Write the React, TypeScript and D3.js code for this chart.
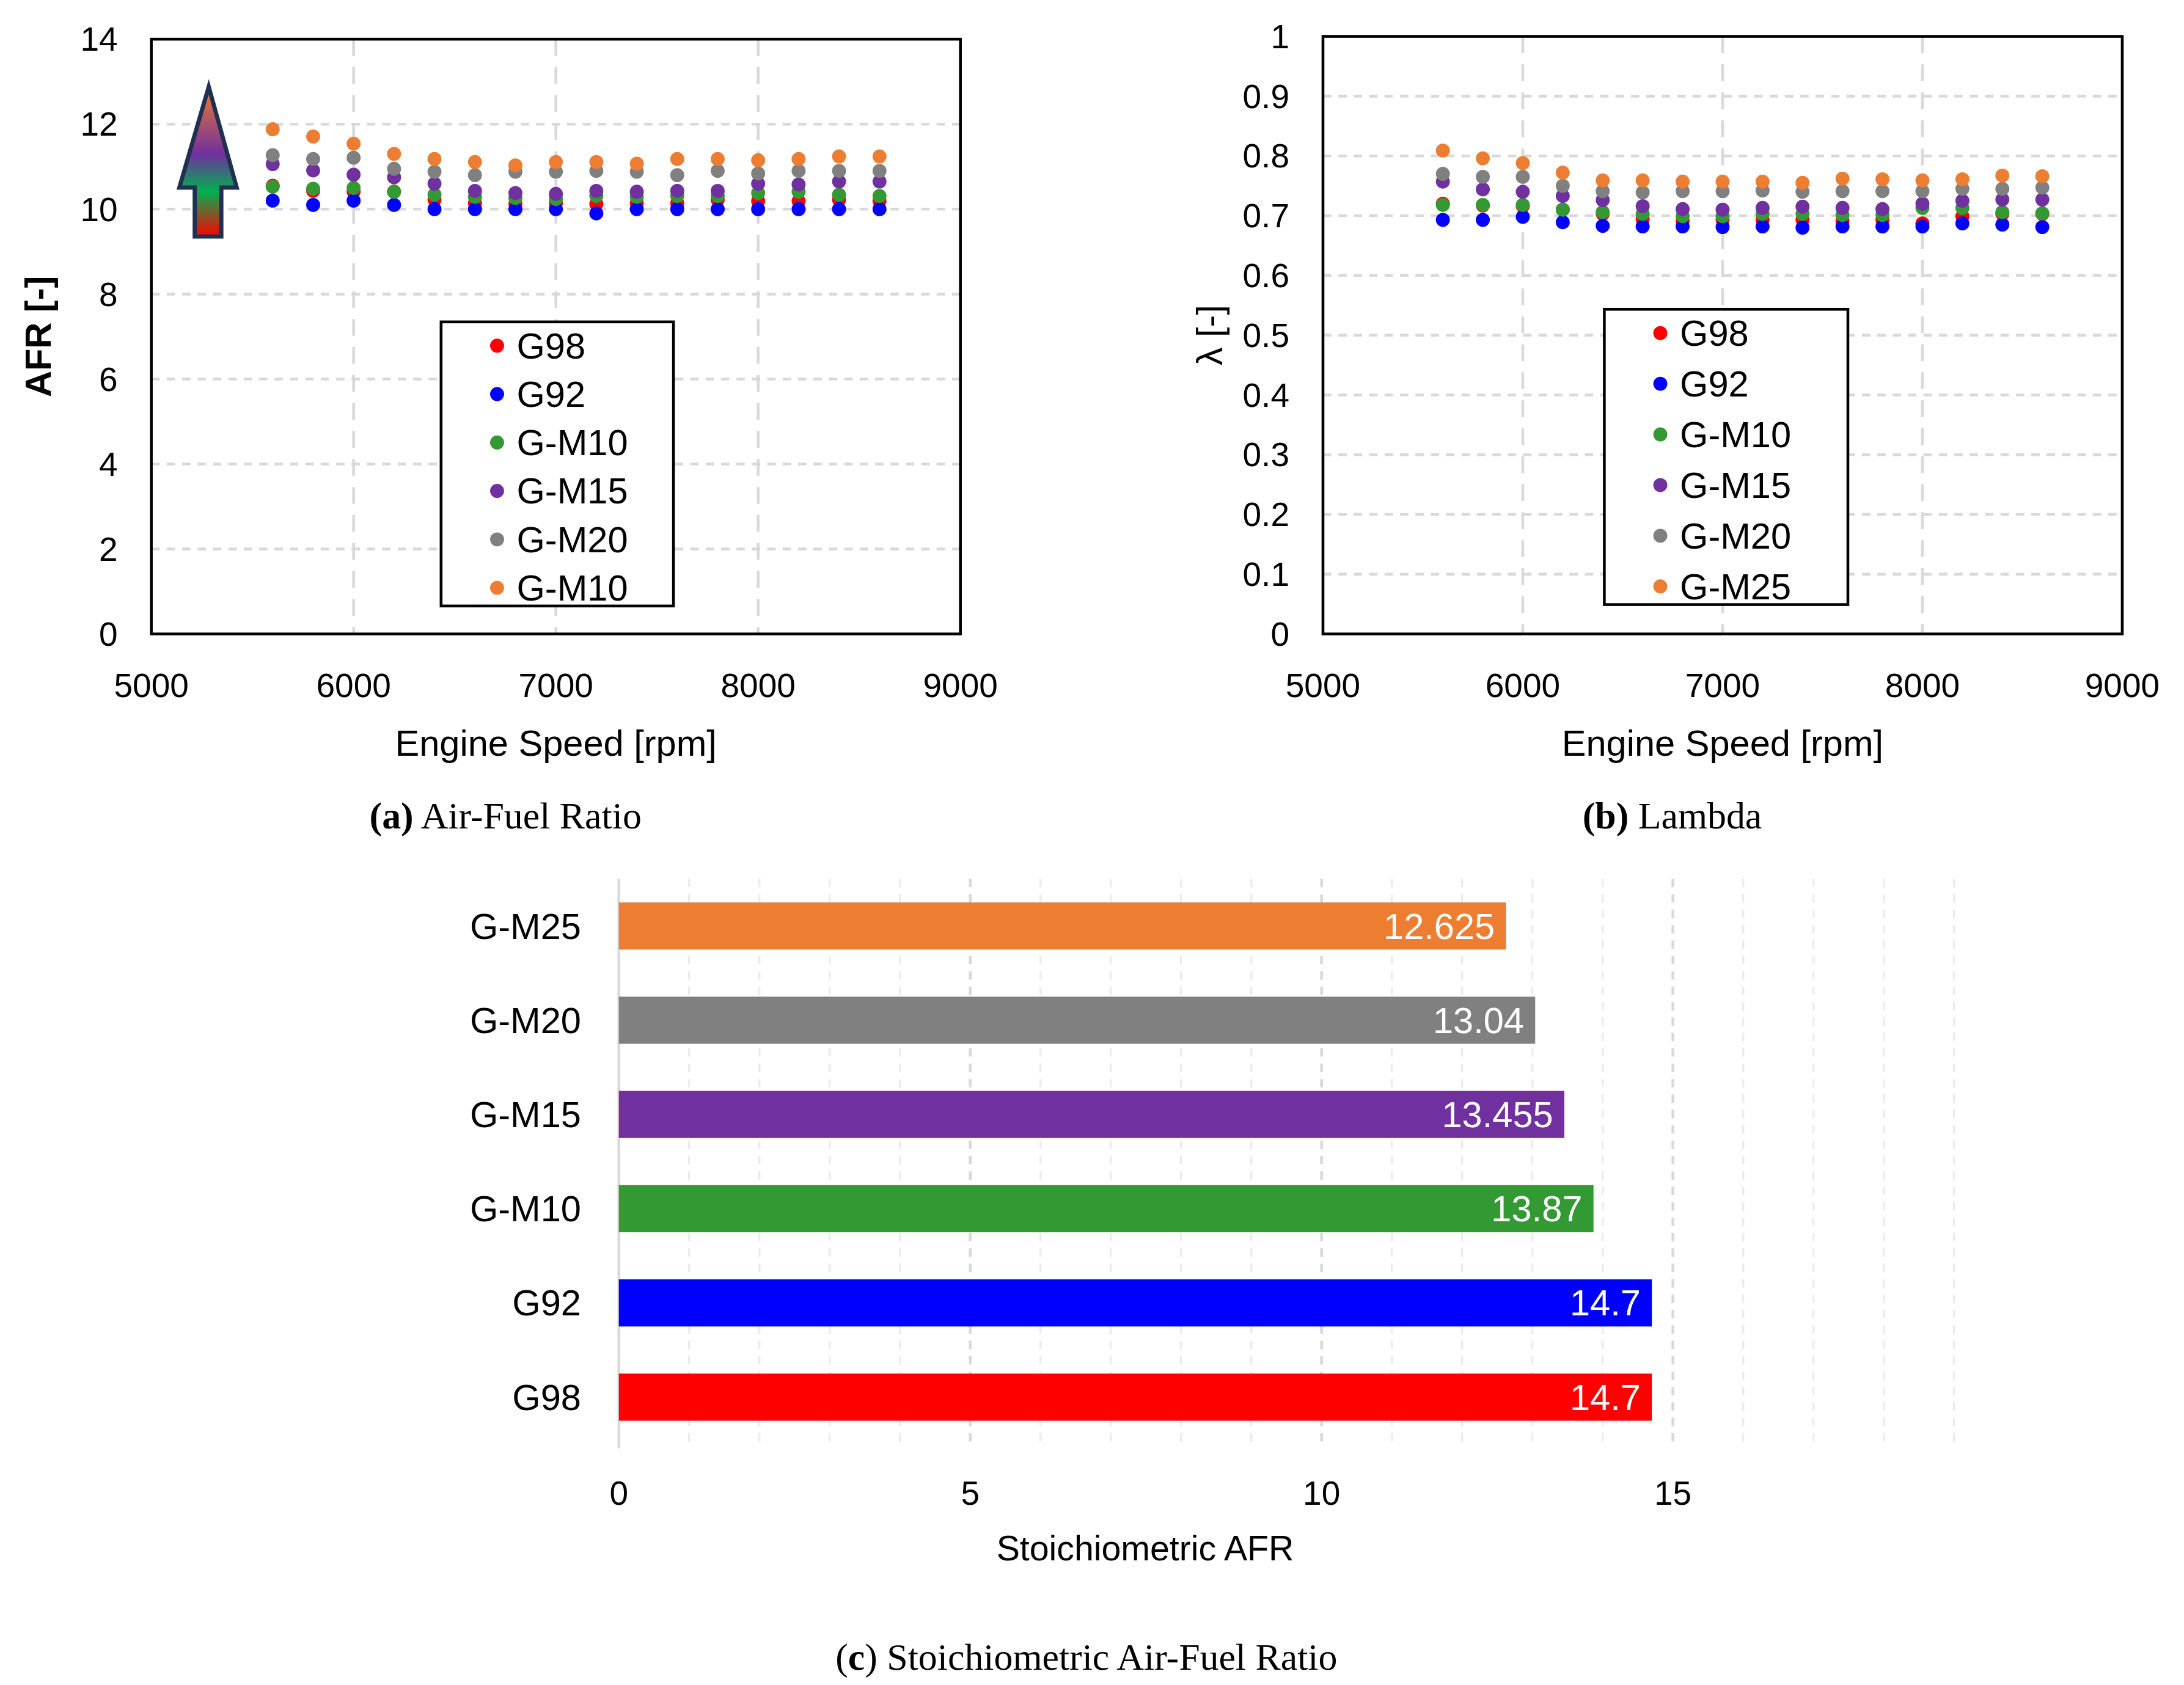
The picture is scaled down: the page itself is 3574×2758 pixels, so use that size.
import * as d3 from "d3";

const speeds = [5600, 5800, 6000, 6200, 6400, 6600, 6800, 7000, 7200, 7400, 7600, 7800, 8000, 8200, 8400, 8600];

const afrG98 = [10.55, 10.43, 10.41, 10.41, 10.22, 10.14, 10.12, 10.14, 10.12, 10.14, 10.14, 10.22, 10.19, 10.19, 10.22, 10.19];
const afrG92 = [10.2, 10.1, 10.2, 10.1, 10.0, 10.0, 10.0, 10.0, 9.9, 10.0, 10.0, 10.0, 10.0, 10.0, 10.0, 10.0];
const afrM10 = [10.53, 10.48, 10.5, 10.41, 10.34, 10.29, 10.26, 10.24, 10.31, 10.29, 10.31, 10.31, 10.38, 10.41, 10.34, 10.31];
const afrM15 = [11.06, 10.91, 10.81, 10.75, 10.6, 10.43, 10.38, 10.36, 10.43, 10.41, 10.43, 10.43, 10.6, 10.58, 10.65, 10.65];
const afrM20 = [11.27, 11.18, 11.21, 10.95, 10.88, 10.8, 10.88, 10.88, 10.9, 10.88, 10.8, 10.9, 10.84, 10.9, 10.9, 10.9];
const afrM25 = [11.88, 11.71, 11.54, 11.3, 11.18, 11.11, 11.03, 11.11, 11.11, 11.07, 11.18, 11.18, 11.15, 11.18, 11.24, 11.24];

const lamG98 = [0.72, 0.717, 0.716, 0.71, 0.703, 0.694, 0.691, 0.693, 0.693, 0.693, 0.691, 0.693, 0.687, 0.699, 0.703, 0.703];
const lamG92 = [0.693, 0.693, 0.698, 0.689, 0.683, 0.682, 0.682, 0.681, 0.682, 0.68, 0.682, 0.682, 0.682, 0.687, 0.685, 0.681];
const lamM10 = [0.718, 0.718, 0.718, 0.71, 0.706, 0.703, 0.699, 0.699, 0.703, 0.703, 0.701, 0.701, 0.713, 0.713, 0.706, 0.704];
const lamM15 = [0.757, 0.744, 0.74, 0.733, 0.726, 0.716, 0.711, 0.71, 0.713, 0.715, 0.713, 0.711, 0.72, 0.725, 0.727, 0.727];
const lamM20 = [0.77, 0.765, 0.765, 0.75, 0.741, 0.739, 0.741, 0.741, 0.742, 0.74, 0.741, 0.741, 0.741, 0.745, 0.745, 0.747];
const lamM25 = [0.809, 0.796, 0.788, 0.772, 0.759, 0.759, 0.757, 0.757, 0.757, 0.755, 0.762, 0.761, 0.759, 0.761, 0.767, 0.766];

const colors = ["#ff0000", "#0000ff", "#339933", "#7030a0", "#808080", "#ed7d31"];
const legendA = ["G98", "G92", "G-M10", "G-M15", "G-M20", "G-M10"];
const legendB = ["G98", "G92", "G-M10", "G-M15", "G-M20", "G-M25"];

const fuels = ["G98", "G92", "G-M10", "G-M15", "G-M20", "G-M25"];
const stoich = [14.7, 14.7, 13.87, 13.455, 13.04, 12.625];
const stoichLabels = ["14.7", "14.7", "13.87", "13.455", "13.04", "12.625"];

const sans = "Arial, 'Liberation Sans', sans-serif";
const serif = "'Times New Roman', 'Liberation Serif', serif";
const grid = "#d9d9d9";

function Scatter(props: {
  x0: number; x1: number; y0: number; y1: number; yMax: number; yTicks: number[];
  fmt: (v: number) => string; series: number[][]; legend: string[];
  lg: { x: number; y: number; w: number; h: number }; yTitle: string; yBold: boolean;
  caption: [string, string]; arrow?: boolean;
}) {
  const { x0, x1, y0, y1 } = props;
  const x = d3.scaleLinear().domain([5000, 9000]).range([x0, x1]);
  const y = d3.scaleLinear().domain([0, props.yMax]).range([y1, y0]);
  const xt = [5000, 6000, 7000, 8000, 9000];
  const step = (props.lg.h - 30) / 5;
  return (
    <g>
      {props.yTicks.slice(1, -1).map((t) => (
        <line key={"h" + t} x1={x0} x2={x1} y1={y(t)} y2={y(t)} stroke={grid} strokeWidth={2} strokeDasharray="6,5" />
      ))}
      {xt.slice(1, -1).map((t) => (
        <line key={"v" + t} x1={x(t)} x2={x(t)} y1={y0} y2={y1} stroke={grid} strokeWidth={2} strokeDasharray="12,8" />
      ))}
      <rect x={x0} y={y0} width={x1 - x0} height={y1 - y0} fill="none" stroke="#000" strokeWidth={2} />
      {props.yTicks.map((t) => (
        <text key={"yt" + t} x={x0 - 24} y={y(t)} dy="0.35em" textAnchor="end" fontSize={24} fontFamily={sans}>{props.fmt(t)}</text>
      ))}
      {xt.map((t) => (
        <text key={"xt" + t} x={x(t)} y={y1 + 45} textAnchor="middle" fontSize={24} fontFamily={sans}>{t}</text>
      ))}
      <text x={(x0 + x1) / 2} y={y1 + 87} textAnchor="middle" fontSize={26} fontFamily={sans}>Engine Speed [rpm]</text>
      <text transform={`translate(${x0 - 72},${(y0 + y1) / 2}) rotate(-90)`} textAnchor="middle" fontSize={26}
        fontWeight={props.yBold ? "bold" : "normal"} fontFamily={sans}>{props.yTitle}</text>
      <text x={(x0 + x1) / 2 - 36} y={y1 + 139} textAnchor="middle" fontSize={27} fontFamily={serif}>
        <tspan fontWeight="bold">{props.caption[0]}</tspan>{props.caption[1]}
      </text>
      {props.arrow && (
        <g>
          <defs>
            <linearGradient id="arrowGrad" x1="0" y1="1" x2="0" y2="0">
              <stop offset="0" stopColor="#ff0000" />
              <stop offset="0.3" stopColor="#00b050" />
              <stop offset="0.55" stopColor="#7030a0" />
              <stop offset="1" stopColor="#ed7d31" />
            </linearGradient>
          </defs>
          <path d="M149,62 L169,134 L158,134 L158,169 L139,169 L139,134 L128,134 Z" fill="url(#arrowGrad)" stroke="#1f3050" strokeWidth={3} />
        </g>
      )}
      {props.series.map((s, i) =>
        s.map((v, j) => <circle key={i + "-" + j} cx={x(speeds[j])} cy={y(v)} r={5} fill={colors[i]} />)
      )}
      <rect x={props.lg.x} y={props.lg.y} width={props.lg.w} height={props.lg.h} fill="#fff" stroke="#000" strokeWidth={2} />
      {props.legend.map((l, i) => (
        <g key={"l" + i}>
          <circle cx={props.lg.x + 40} cy={props.lg.y + 17 + step * i} r={5} fill={colors[i]} />
          <text x={props.lg.x + 54} y={props.lg.y + 17 + step * i} dy="0.35em" fontSize={26} fontFamily={sans}>{l}</text>
        </g>
      ))}
    </g>
  );
}

function Bars() {
  const x = d3.scaleLinear().domain([0, 15]).range([442, 1195]);
  const y = d3.scaleBand().domain(fuels).range([1032, 628]).paddingInner(0.5).paddingOuter(0.25);
  const minor = d3.range(1, 20);
  return (
    <g>
      {minor.map((t) => (
        <line key={t} x1={x(t)} x2={x(t)} y1={628} y2={1035} stroke={t % 5 === 0 ? grid : "#ececec"} strokeWidth={t % 5 === 0 ? 2 : 1.5} strokeDasharray="6,5" />
      ))}
      <line x1={x(0)} x2={x(0)} y1={628} y2={1035} stroke={grid} strokeWidth={2} />
      {fuels.map((f, i) => (
        <g key={f}>
          <rect x={x(0)} y={y(f)} width={x(stoich[i]) - x(0)} height={y.bandwidth()} fill={colors[i]} />
          <text x={x(stoich[i]) - 8} y={y(f)! + y.bandwidth() / 2} dy="0.35em" textAnchor="end" fill="#fff" fontSize={26} fontFamily={sans}>{stoichLabels[i]}</text>
          <text x={415} y={y(f)! + y.bandwidth() / 2} dy="0.35em" textAnchor="end" fontSize={26} fontFamily={sans}>{f}</text>
        </g>
      ))}
      {[0, 5, 10, 15].map((t) => (
        <text key={"t" + t} x={x(t)} y={1075} textAnchor="middle" fontSize={24} fontFamily={sans}>{t}</text>
      ))}
      <text x={818} y={1115} textAnchor="middle" fontSize={25} fontFamily={sans}>Stoichiometric AFR</text>
      <text x={776} y={1193} textAnchor="middle" fontSize={27} fontFamily={serif}>
        <tspan>(</tspan><tspan fontWeight="bold">c</tspan><tspan>) Stoichiometric Air-Fuel Ratio</tspan>
      </text>
    </g>
  );
}

export default function App() {
  return (
    <svg width={3574} height={2758} viewBox="0 0 1560 1204" style={{ position: "absolute", left: 0, top: 0, background: "#fff" }}>
      <rect width={1560} height={1204} fill="#fff" />
      <Scatter x0={108} x1={686} y0={28} y1={453} yMax={14} yTicks={d3.range(0, 15, 2)} fmt={(v) => String(v)}
        series={[afrG98, afrG92, afrM10, afrM15, afrM20, afrM25]} legend={legendA}
        lg={{ x: 315, y: 230, w: 166, h: 203 }} yTitle="AFR [-]" yBold={true} caption={["(a)", " Air-Fuel Ratio"]} arrow />
      <Scatter x0={945} x1={1516} y0={26} y1={453} yMax={1} yTicks={d3.range(0, 11).map((i) => i / 10)} fmt={(v) => d3.format("~g")(v)}
        series={[lamG98, lamG92, lamM10, lamM15, lamM20, lamM25]} legend={legendB}
        lg={{ x: 1146, y: 221, w: 174, h: 211 }} yTitle="λ [-]" yBold={false} caption={["(b)", " Lambda"]} />
      <Bars />
    </svg>
  );
}
